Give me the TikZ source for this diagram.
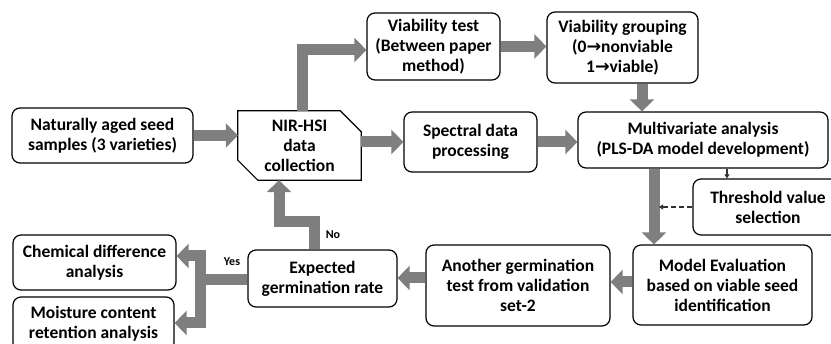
\documentclass[tikz,border=0pt]{standalone}
\usepackage{fontspec}
\setmainfont{Carlito}
\newfontfamily\symfont{DejaVu Sans}
\usetikzlibrary{arrows.meta}
\definecolor{arrgray}{HTML}{7F7F7F}
\definecolor{thin}{HTML}{333333}
\newcommand{\ra}{{\symfont\bfseries\char"2192}}
\begin{document}
\begin{tikzpicture}[x=1pt,y=-1pt,
  box/.style={draw, rounded corners=8pt, line width=1.2pt, align=center,
    font=\bfseries\fontsize{17.5}{20}\selectfont, inner sep=0pt},
  blk/.style={draw=arrgray, line width=11pt, line join=miter,
    -{Triangle[width=24pt,length=12pt]}},
  thinarrow/.style={draw=thin, line width=1.2pt, -{Triangle[width=5pt,length=4pt]}},
  lbl/.style={font=\bfseries\fontsize{12}{13}\selectfont}]
\useasboundingbox (0,0) rectangle (831,344);
\clip (0,0) rectangle (831,344);

% process boxes
\node[box, minimum width=181pt, minimum height=55pt] (nat) at (102.5,135.5)
  {Naturally aged seed\\samples (3 varieties)};
\node[align=center, font=\bfseries\fontsize{17.5}{20}\selectfont, inner sep=0pt,
  minimum width=123pt, minimum height=69pt] (nir) at (299.5,145.5)
  {NIR-HSI\\data\\collection};
\draw[line width=1.2pt] (nir.north west) -- ([xshift=-21pt]nir.north east)
  -- ([yshift=-21pt]nir.north east) -- (nir.south east)
  -- ([xshift=20pt]nir.south west) -- ([yshift=20pt]nir.south west) -- cycle;
\node[box, minimum width=133pt, minimum height=67pt] (vt) at (433.5,46.5)
  {Viability test\\(Between paper\\method)};
\node[box, minimum width=151pt, minimum height=71pt] (vg) at (622.5,47.5)
  {Viability grouping\\(0\ra nonviable\\1\ra viable)};
\node[box, minimum width=133pt, minimum height=60pt] (sp) at (470.5,142)
  {Spectral data\\processing};
\node[box, minimum width=250pt, minimum height=56pt] (mv) at (703,140)
  {Multivariate analysis\\(PLS-DA model development)};
\node[box, minimum width=150pt, minimum height=56pt] (th) at (768,207)
  {Threshold value\\selection};
\node[box, minimum width=179pt, minimum height=80pt] (me) at (722.5,285)
  {Model Evaluation\\based on viable seed\\identification};
\node[box, minimum width=184pt, minimum height=81pt] (ag) at (518,285.5)
  {Another germination\\test from validation\\set-2};
\node[box, minimum width=149pt, minimum height=57pt] (eg) at (322.5,278.5)
  {Expected\\germination rate};
\node[box, minimum width=163pt, minimum height=55pt] (cd) at (94.5,262.5)
  {Chemical difference\\analysis};
\node[box, minimum width=161pt, minimum height=54pt] (mc) at (93.5,324)
  {Moisture content\\retention analysis};

% helper points for the bent and offset connectors
\coordinate (down) at ([xshift=-49pt]mv.south);
\coordinate (up) at ([xshift=-41pt]th.north);
\coordinate (dash) at ([xshift=5pt]down);
\coordinate (meout) at ([yshift=3pt]me.west);
\coordinate (agout) at ([yshift=7.5pt]ag.west);
\coordinate (vgout) at ([xshift=19.5pt]vg.south);
\coordinate (j) at (200,280);

% main flow
\draw[blk] (nat.east) -- (nir.west |- nat.east);
\draw[blk] (nir.east |- sp.west) -- (sp.west);
\draw[blk] (sp.east) -- (mv.west |- sp.east);
\draw[blk] ([xshift=2.5pt]nir.north) |- ([yshift=-3.5pt]vt.west);
\draw[blk] (vt.east) -- (vg.west |- vt.east);
\draw[blk] (vgout) -- (vgout |- mv.north);
\draw[blk] (down) -- (down |- me.north);
\draw[blk] (meout) -- (ag.east |- meout);
\draw[blk] (agout) -- (eg.east |- agout);
\draw[blk] ([xshift=-8.5pt]eg.north) -- ++(0,-28) -| ([xshift=-20.5pt]nir.south);
\draw[blk] ([yshift=-1.5pt]eg.west) -- (j) |- ([yshift=6.5pt]cd.east);
\draw[blk] (j) |- ([yshift=1pt]mc.east);

% threshold link and feedback
\draw[thinarrow] (up |- mv.south) -- (up);
\draw[thinarrow, dashed, dash pattern=on 5pt off 3pt] (th.west) -- (dash |- th.west);

% decision labels
\node[lbl] (no) at (333,235) {No};
\node[lbl] (yes) at (232,262) {Yes};
\end{tikzpicture}
\end{document}
